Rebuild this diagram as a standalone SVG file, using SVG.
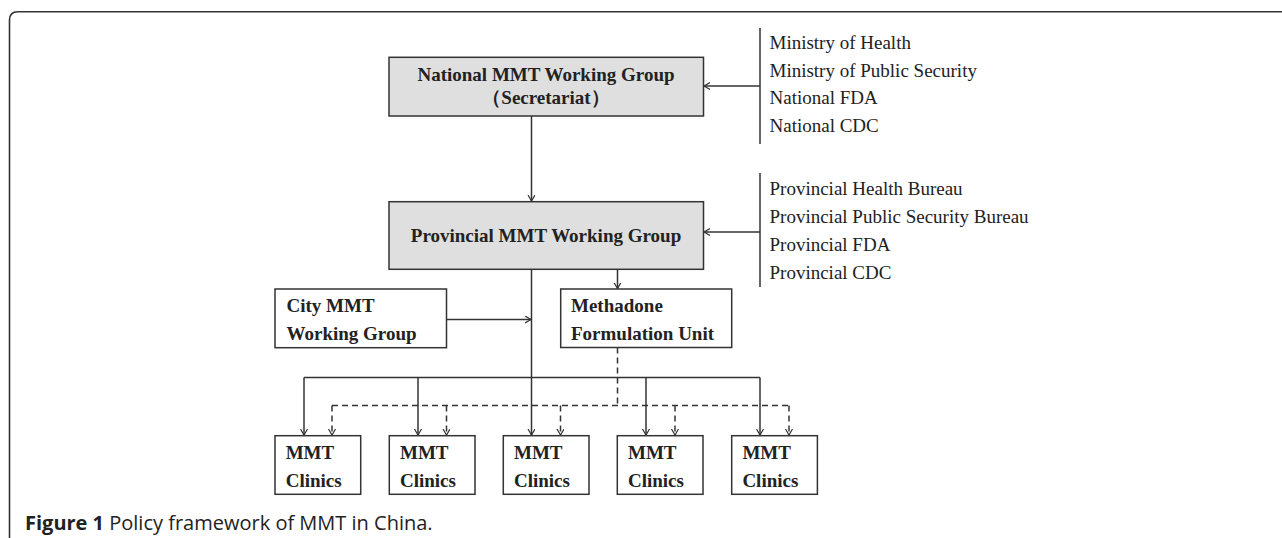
<svg xmlns="http://www.w3.org/2000/svg" width="1282" height="538" viewBox="0 0 1282 538">
  <style>
    .frame { fill: none; stroke: #333; stroke-width: 1.6; }
    .box { fill: #fff; stroke: #333; stroke-width: 1.5; }
    .gbox { fill: #dfdfdf; stroke: #333; stroke-width: 1.5; }
    .bt { font-family: "Liberation Serif", "Times New Roman", serif; font-weight: bold; font-size: 19px; fill: #222; }
    .rt { font-family: "Liberation Serif", "Times New Roman", serif; font-size: 19px; fill: #222; }
    .ln { fill: none; stroke: #333; stroke-width: 1.5; }
    .dash { fill: none; stroke: #333; stroke-width: 1.5; stroke-dasharray: 6 4; }
    .cap { font-family: "Open Sans", "Noto Sans", sans-serif; font-size: 20px; fill: #222; }
  </style>
  <defs>
    <marker id="arr" markerUnits="userSpaceOnUse" markerWidth="10" markerHeight="10" refX="6" refY="3.5" orient="auto">
      <path d="M0,0 L6,3.5 L0,7" fill="none" stroke="#333" stroke-width="1.2"/>
    </marker>
  </defs>
  <rect width="1282" height="538" fill="#fff"/>
  <path class="frame" d="M9.5,538 L9.5,20 Q9.5,11.7 17.8,11.7 L1282,11.7"/>

  <g id="connectors">
    <line class="ln" x1="531.5" y1="116" x2="531.5" y2="201" marker-end="url(#arr)"/>
    <line class="ln" x1="760" y1="28" x2="760" y2="144"/>
    <line class="ln" x1="760" y1="86" x2="704" y2="86" marker-end="url(#arr)"/>
    <line class="ln" x1="760" y1="173" x2="760" y2="287"/>
    <line class="ln" x1="760" y1="232" x2="704" y2="232" marker-end="url(#arr)"/>
    <line class="ln" x1="617.5" y1="269" x2="617.5" y2="288.5" marker-end="url(#arr)"/>
    <line class="ln" x1="531.5" y1="269" x2="531.5" y2="435" marker-end="url(#arr)"/>
    <line class="ln" x1="446.5" y1="319.5" x2="531" y2="319.5" marker-end="url(#arr)"/>
    <line class="ln" x1="304" y1="377.5" x2="760" y2="377.5"/>
    <line class="ln" x1="304" y1="377.5" x2="304" y2="435" marker-end="url(#arr)"/>
    <line class="ln" x1="418" y1="377.5" x2="418" y2="435" marker-end="url(#arr)"/>
    <line class="ln" x1="646" y1="377.5" x2="646" y2="435" marker-end="url(#arr)"/>
    <line class="ln" x1="760" y1="377.5" x2="760" y2="435" marker-end="url(#arr)"/>
    <path class="dash" d="M617.5,347.5 L617.5,405.5"/>
    <line class="dash" x1="332" y1="405.5" x2="789" y2="405.5"/>
    <line class="dash" x1="332" y1="405.5" x2="332" y2="435" marker-end="url(#arr)"/>
    <line class="dash" x1="446.5" y1="405.5" x2="446.5" y2="435" marker-end="url(#arr)"/>
    <line class="dash" x1="560.5" y1="405.5" x2="560.5" y2="435" marker-end="url(#arr)"/>
    <line class="dash" x1="675" y1="405.5" x2="675" y2="435" marker-end="url(#arr)"/>
    <line class="dash" x1="789" y1="405.5" x2="789" y2="435" marker-end="url(#arr)"/>
  </g>

  <g id="national">
    <rect class="gbox" x="389" y="57.3" width="314.5" height="58.7"/>
    <text class="bt" x="546" y="81" text-anchor="middle">National MMT Working Group</text>
    <text class="bt" x="546" y="104" text-anchor="middle">（Secretariat）</text>
  </g>

  <g id="national-members">
    <text class="rt" x="769.5" y="49.3">Ministry of Health</text>
    <text class="rt" x="769.5" y="76.8">Ministry of Public Security</text>
    <text class="rt" x="769.5" y="104.3">National FDA</text>
    <text class="rt" x="769.5" y="131.5">National CDC</text>
  </g>

  <g id="provincial">
    <rect class="gbox" x="389" y="201.7" width="314.5" height="67.6"/>
    <text class="bt" x="546" y="242" text-anchor="middle">Provincial MMT Working Group</text>
  </g>

  <g id="provincial-members">
    <text class="rt" x="769.5" y="195">Provincial Health Bureau</text>
    <text class="rt" x="769.5" y="223">Provincial Public Security Bureau</text>
    <text class="rt" x="769.5" y="251">Provincial FDA</text>
    <text class="rt" x="769.5" y="279">Provincial CDC</text>
  </g>

  <g id="city">
    <rect class="box" x="275" y="289" width="171.5" height="58.7"/>
    <text class="bt" x="286.5" y="311.7">City MMT</text>
    <text class="bt" x="286.5" y="340">Working Group</text>
  </g>

  <g id="methadone">
    <rect class="box" x="560.7" y="289" width="171" height="58.5"/>
    <text class="bt" x="571" y="311.7">Methadone</text>
    <text class="bt" x="571" y="340">Formulation Unit</text>
  </g>

  <g id="clinic1">
    <rect class="box" x="275" y="435.7" width="85.7" height="58.6"/>
    <text class="bt" x="285.7" y="459.3">MMT</text>
    <text class="bt" x="285.7" y="486.7">Clinics</text>
  </g>
  <g id="clinic2">
    <rect class="box" x="389.3" y="435.7" width="85.7" height="58.6"/>
    <text class="bt" x="400" y="459.3">MMT</text>
    <text class="bt" x="400" y="486.7">Clinics</text>
  </g>
  <g id="clinic3">
    <rect class="box" x="503.3" y="435.7" width="85.7" height="58.6"/>
    <text class="bt" x="514" y="459.3">MMT</text>
    <text class="bt" x="514" y="486.7">Clinics</text>
  </g>
  <g id="clinic4">
    <rect class="box" x="617.3" y="435.7" width="85.7" height="58.6"/>
    <text class="bt" x="628" y="459.3">MMT</text>
    <text class="bt" x="628" y="486.7">Clinics</text>
  </g>
  <g id="clinic5">
    <rect class="box" x="731.7" y="435.7" width="85.7" height="58.6"/>
    <text class="bt" x="742.4" y="459.3">MMT</text>
    <text class="bt" x="742.4" y="486.7">Clinics</text>
  </g>

  <text class="cap" x="25" y="530"><tspan font-weight="bold">Figure 1</tspan> Policy framework of MMT in China.</text>
</svg>
